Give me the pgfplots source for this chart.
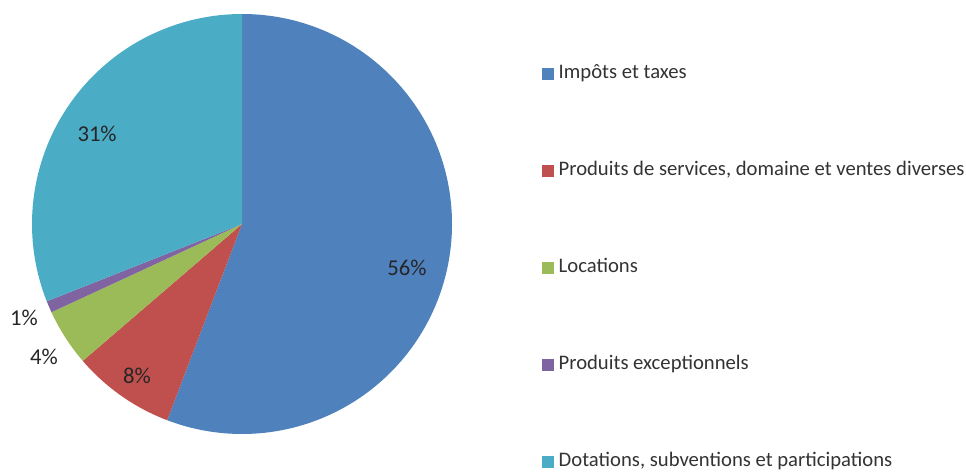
\documentclass[border=0pt]{standalone}
\usepackage{fontspec}
\setmainfont{Carlito}
\usepackage{pgfplots}
\usepackage{pgfplotstable}
\pgfplotsset{compat=1.18}

\definecolor{pie0}{HTML}{4F81BD}
\definecolor{pie1}{HTML}{C0504D}
\definecolor{pie2}{HTML}{9BBB59}
\definecolor{pie3}{HTML}{8064A2}
\definecolor{pie4}{HTML}{4BACC6}

% parts (%) and label positions (axis units, radius = 1)
\pgfplotstableread{
value lx ly
55.8 0.786 -0.210
7.9 -0.500 -0.724
4.4 -0.943 -0.633
0.9 -1.038 -0.448
31.0 -0.690 0.429
}\pietab

% cumulative angles, clockwise from 12 o'clock
\def\cum{90}
\pgfplotsforeachungrouped \i in {0,...,4}{%
  \pgfplotstablegetelem{\i}{value}\of\pietab
  \expandafter\xdef\csname v\i\endcsname{\pgfplotsretval}%
  \pgfmathsetmacro\endang{\cum-3.6*\pgfplotsretval}%
  \expandafter\xdef\csname sa\i\endcsname{\cum}%
  \expandafter\xdef\csname ea\i\endcsname{\endang}%
  \pgfplotstablegetelem{\i}{lx}\of\pietab
  \expandafter\xdef\csname lx\i\endcsname{\pgfplotsretval}%
  \pgfplotstablegetelem{\i}{ly}\of\pietab
  \expandafter\xdef\csname ly\i\endcsname{\pgfplotsretval}%
  \xdef\cum{\endang}%
}

\begin{document}
\begin{tikzpicture}
\useasboundingbox (0,0) rectangle (724.5pt,356.25pt);
\begin{axis}[
    at={(24pt,30.75pt)}, anchor=south west,
    scale only axis, width=315pt, height=315pt,
    xmin=-1, xmax=1, ymin=-1, ymax=1,
    hide axis, clip=false,
    /pgf/number format/assume math mode=true,
    legend style={
        at={(1.214,0.396)}, anchor=west,
        draw=none, fill=none, inner sep=0pt,
        font=\fontsize{15.5}{17}\selectfont, text=black!80,
        row sep=59.75pt,
        nodes={inner sep=0pt, text height=10pt, text depth=3pt},
        /tikz/every odd column/.append style={column sep=4pt},
    },
    legend cell align=left,
    legend image code/.code={\fill[#1] (0pt,-4pt) rectangle (8pt,4pt);},
]
\addlegendimage{pie0}\addlegendentry{Impôts et taxes}
\addlegendimage{pie1}\addlegendentry{Produits de services, domaine et ventes diverses}
\addlegendimage{pie2}\addlegendentry{Locations}
\addlegendimage{pie3}\addlegendentry{Produits exceptionnels}
\addlegendimage{pie4}\addlegendentry{Dotations, subventions et participations}

\pgfplotsinvokeforeach{0,...,4}{
  \fill[pie#1] (axis cs:0,0)
    -- (axis cs:{cos(\csname sa#1\endcsname)},{sin(\csname sa#1\endcsname)})
    arc[start angle=\csname sa#1\endcsname, end angle=\csname ea#1\endcsname, radius=157.5pt]
    -- cycle;
}
\pgfplotsinvokeforeach{0,...,4}{
  \node[font=\fontsize{17}{19}\selectfont, text=black!85]
    at (axis cs:\csname lx#1\endcsname,\csname ly#1\endcsname)
    {\pgfmathprintnumber[fixed,precision=0]{\csname v#1\endcsname}\%};
}
\end{axis}
\end{tikzpicture}
\end{document}
